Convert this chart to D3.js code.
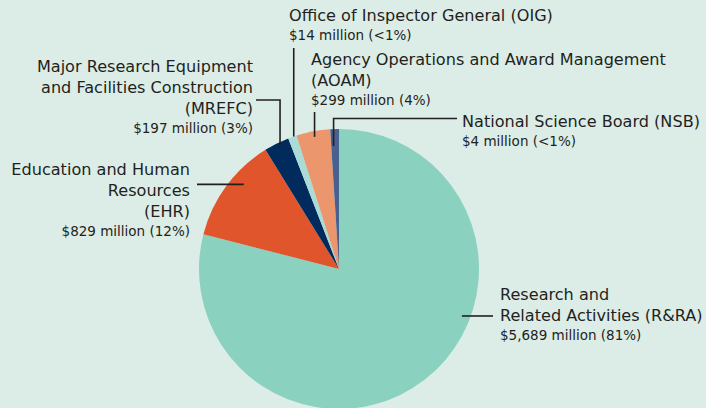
<!DOCTYPE html>
<html>
<head>
<meta charset="utf-8">
<script src="https://cdn.jsdelivr.net/npm/d3@7"></script>
<style>
  html, body { margin: 0; padding: 0; background: #dcede7; }
  svg { display: block; }
  text { font-family: 'DejaVu Sans', sans-serif; fill: #231f20; }
</style>
</head>
<body>
<div id="chart"><svg width="706" height="408"></svg></div>
<script>
// clockwise from 12 o'clock
const keys = ['RRA', 'EHR', 'MREFC', 'OIG', 'AOAM', 'NSB']
const titleLines = [
    ['Research and', 'Related Activities (R&RA)'],
    ['Education and Human', 'Resources', '(EHR)'],
    ['Major Research Equipment', 'and Facilities Construction', '(MREFC)'],
    ['Office of Inspector General (OIG)'],
    ['Agency Operations and Award Management', '(AOAM)'],
    ['National Science Board (NSB)']
]
const amounts = [5689, 829, 197, 14, 299, 4]  // $ million
const pctLabels = ['81%', '12%', '3%', '<1%', '4%', '<1%']
// slice sizes as drawn in the picture (small slices are drawn bigger than their share)
const drawnShare = [79.0, 12.2, 2.9, 1.0, 3.9, 1.0]
const colors = ['#8ad1bf', '#e0552b', '#002b5c', '#a9dcd7', '#eb966c', '#48618f']

const svg = d3.select('#chart svg')
const cx = 339, cy = 269, radius = 140

// label layout: text anchor point, alignment, leader anchor (t along slice, r ratio) and leader shape
const layout = {
    RRA:   {x: 500, y: 300, anchor: 'start', t: 0.39, r: 0.94, leader: 'h', end: 493},
    EHR:   {x: 190, y: 175, anchor: 'end', t: 0.62, r: 0.91, leader: 'h', end: 197},
    MREFC: {x: 253, y: 72, anchor: 'end', t: 0.57, r: 0.97, leader: 'vh', elbowY: 100, end: 256},
    OIG:   {x: 289, y: 21, anchor: 'start', t: 0.66, r: 1.0, leader: 'v', end: 48},
    AOAM:  {x: 311, y: 65, anchor: 'start', t: 0.51, r: 0.96, leader: 'v', end: 112},
    NSB:   {x: 462, y: 127, anchor: 'start', t: 0.3, r: 0.88, leader: 'vh', elbowY: 118.5, end: 457}
}

const slices = d3.pie()
    .sort(null)
    .value(d => d)(drawnShare)

const arc = d3.arc().innerRadius(0).outerRadius(radius)

const g = svg.append('g').attr('transform', `translate(${cx},${cy})`)

g.selectAll('path.slice')
    .data(slices)
    .join('path')
    .attr('class', 'slice')
    .attr('d', arc)
    .attr('fill', (d, i) => colors[i])

// leader lines + labels
const fmt = d3.format(',')
slices.forEach((s, i) => {
    const L = layout[keys[i]]
    const a = s.startAngle + L.t * (s.endAngle - s.startAngle)
    const px = cx + Math.sin(a) * radius * L.r
    const py = cy - Math.cos(a) * radius * L.r
    let p = d3.path()
    p.moveTo(px, py)
    if (L.leader === 'h') p.lineTo(L.end, py)
    else if (L.leader === 'v') p.lineTo(px, L.end)
    else { p.lineTo(px, L.elbowY); p.lineTo(L.end, L.elbowY) }
    svg.append('path')
        .attr('d', p.toString())
        .attr('fill', 'none')
        .attr('stroke', '#231f20')
        .attr('stroke-width', 1.6)

    const text = svg.append('text')
        .attr('text-anchor', L.anchor)
    titleLines[i].forEach((line, j) => {
        text.append('tspan')
            .attr('x', L.x)
            .attr('y', L.y + j * 21)
            .style('font-size', '16.1px')
            .text(line)
    })
    text.append('tspan')
        .attr('x', L.x)
        .attr('y', L.y + (titleLines[i].length - 1) * 21 + 19)
        .style('font-size', '13.5px')
        .text(`$${fmt(amounts[i])} million (${pctLabels[i]})`)
})
</script>
</body>
</html>
